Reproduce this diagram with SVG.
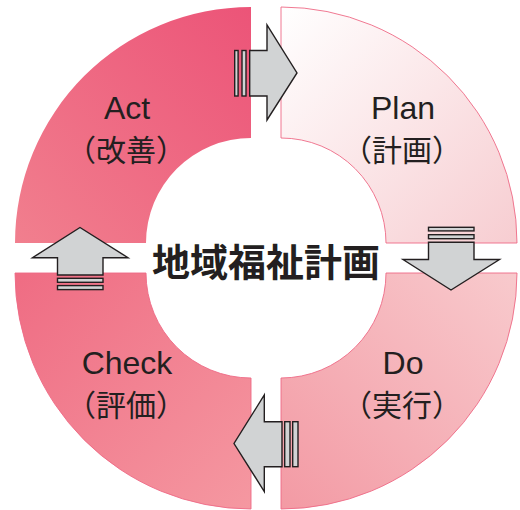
<svg xmlns="http://www.w3.org/2000/svg" width="520" height="510" viewBox="0 0 520 510">
<defs>
<linearGradient id="gAct" x1="1" y1="0" x2="0" y2="1"><stop offset="0" stop-color="#ec5478"/><stop offset="1" stop-color="#f17f8e"/></linearGradient>
<linearGradient id="gPlan" x1="0" y1="0" x2="1" y2="1"><stop offset="0" stop-color="#ffffff"/><stop offset="1" stop-color="#f7cdd1"/></linearGradient>
<linearGradient id="gDo" x1="1" y1="0" x2="0" y2="1"><stop offset="0" stop-color="#f8cacd"/><stop offset="1" stop-color="#f39aa4"/></linearGradient>
<linearGradient id="gCheck" x1="0" y1="0" x2="1" y2="1"><stop offset="0" stop-color="#ef6c83"/><stop offset="1" stop-color="#f598a1"/></linearGradient>
<style>
.q{stroke:#ee6a86;stroke-width:0.9}
.lbl{font-family:"Liberation Sans","Noto Sans CJK JP",sans-serif;font-size:32px;fill:#231f20;text-anchor:middle}
.jp{font-family:"Noto Sans CJK JP",sans-serif;font-size:30px;fill:#231f20;text-anchor:middle}
.title{font-family:"Noto Sans CJK JP",sans-serif;font-size:38px;font-weight:bold;fill:#231f20;text-anchor:middle}
.ar{fill:#d1d3d4;stroke:#231f20;stroke-width:1.4;stroke-linejoin:miter}
</style>
</defs>
<rect width="520" height="510" fill="#ffffff"/>
<g id="act">
<path d="M15,243 A236,236 0 0 1 251,7 L251,138 A105,105 0 0 0 146,243 Z" fill="url(#gAct)"/>
<text class="lbl" x="127" y="119">Act</text>
<text class="jp" x="126" y="161">（改善）</text>
</g>
<g id="plan">
<path class="q" d="M281,7 A236,236 0 0 1 517,243 L386,243 A105,105 0 0 0 281,138 Z" fill="url(#gPlan)"/>
<text class="lbl" x="403" y="119">Plan</text>
<text class="jp" x="402" y="161">（計画）</text>
</g>
<g id="do">
<path class="q" d="M517,273 A236,236 0 0 1 281,509 L281,378 A105,105 0 0 0 386,273 Z" fill="url(#gDo)"/>
<text class="lbl" x="403" y="374">Do</text>
<text class="jp" x="402" y="416">（実行）</text>
</g>
<g id="check">
<path class="q" d="M251,509 A236,236 0 0 1 15,273 L146,273 A105,105 0 0 0 251,378 Z" fill="url(#gCheck)"/>
<text class="lbl" x="127" y="374">Check</text>
<text class="jp" x="126" y="416">（評価）</text>
</g>
<g id="center">
<text class="title" x="266" y="276">地域福祉計画</text>
</g>
<g id="connectors">
<g id="arrow-act-plan">
<rect class="ar" x="234.7" y="50.5" width="3.4" height="45.5"/>
<rect class="ar" x="242" y="50.5" width="4" height="45.5"/>
<polygon class="ar" points="249.7,50.5 267,50.5 267,25 297,73 267,120 267,96 249.7,96"/>
</g>
<g id="arrow-plan-do">
<rect class="ar" x="428.5" y="227.3" width="45.5" height="3.6"/>
<rect class="ar" x="428.5" y="234.7" width="45.5" height="4"/>
<polygon class="ar" points="428.5,242.3 474,242.3 474,259.5 499.5,259.5 451,290 403,259.5 428.5,259.5"/>
</g>
<g id="arrow-do-check">
<rect class="ar" x="284.7" y="421.7" width="5.3" height="45"/>
<rect class="ar" x="292.7" y="421.7" width="5.3" height="45"/>
<polygon class="ar" points="282,421.7 282,466.7 264.3,466.7 264.3,491.5 234,443.5 264.3,395 264.3,421.7"/>
</g>
<g id="arrow-check-act">
<rect class="ar" x="57.5" y="278.3" width="45.5" height="4"/>
<rect class="ar" x="57.5" y="285.6" width="45.5" height="4"/>
<polygon class="ar" points="57.5,275 57.5,257.7 32.5,257.7 80,227.5 128,257.7 103,257.7 103,275"/>
</g>
</g>
</svg>
